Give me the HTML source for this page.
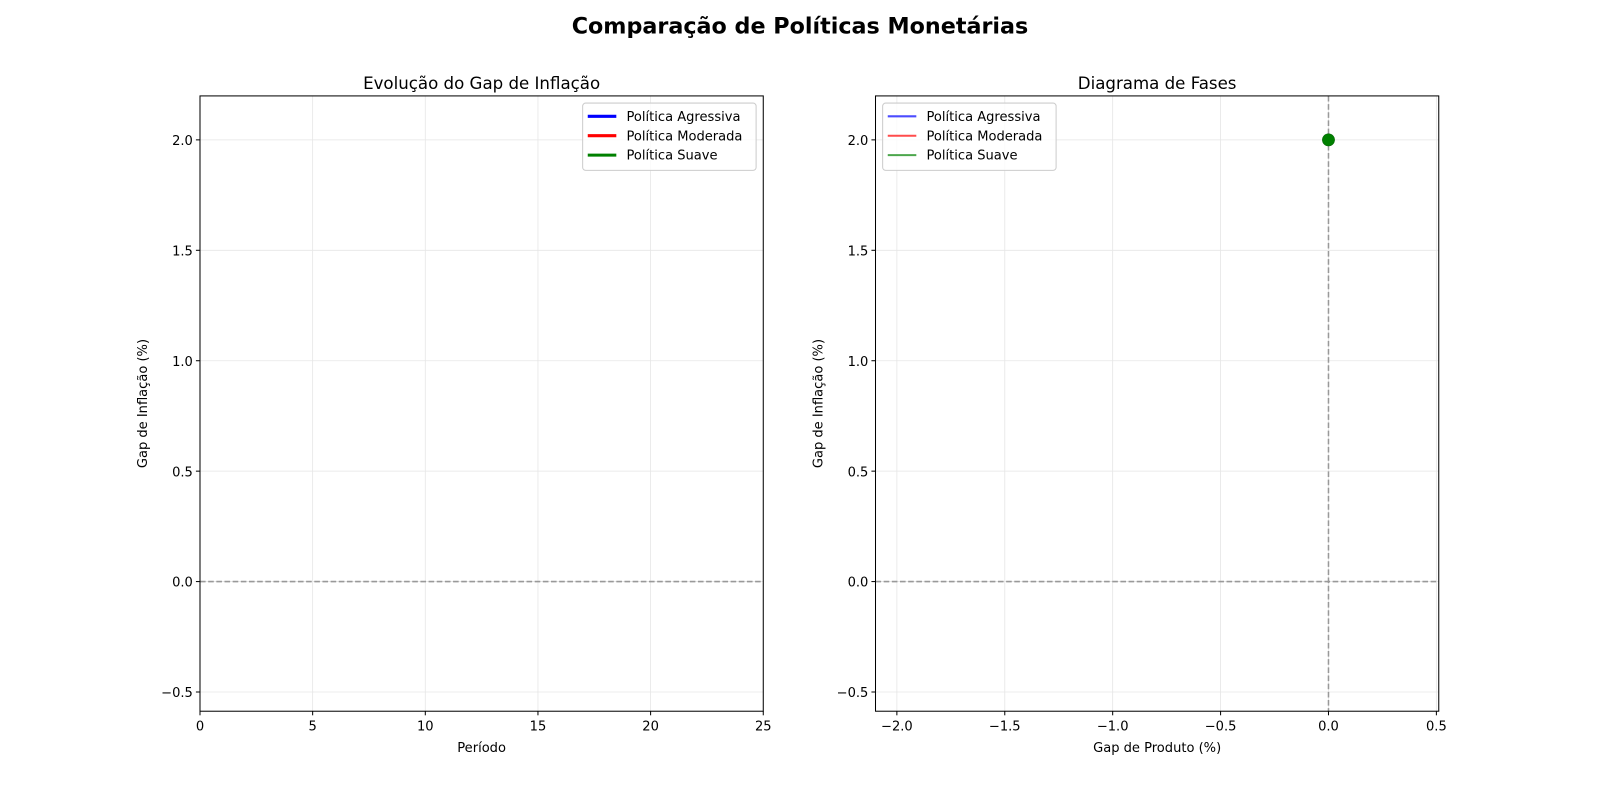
<!DOCTYPE html>
<html><head><meta charset="utf-8"><style>
body{margin:0;background:#fff;overflow:hidden;}
svg{display:block;font-family:"DejaVu Sans","Liberation Sans",sans-serif;}
</style></head><body>
<svg width="1600" height="800" xmlns="http://www.w3.org/2000/svg">
<g id="fig" transform="scale(1.0204)">
<text x="784" y="33" text-anchor="middle" font-size="21.8" font-weight="bold">Comparação de Políticas Monetárias</text>
</g>
</svg>
<script>
const leftXTicks=[0,5,10,15,20,25];
const yTicks=[-0.5,0.0,0.5,1.0,1.5,2.0];
const rightXTicks=[-2.0,-1.5,-1.0,-0.5,0.0,0.5];
const seriesNames=['Política Agressiva','Política Moderada','Política Suave'];
const seriesColors=['#0000ff','#ff0000','#008000'];
const startPointX=[0];
const startPointY=[2.0];
const NS='http://www.w3.org/2000/svg';
const svg=document.getElementById('fig');
const FS=12.8;
function mk(tag,attrs,parent){const e=document.createElementNS(NS,tag);for(const k in attrs)e.setAttribute(k,attrs[k]);(parent||svg).appendChild(e);return e;}
function axes(cfg){
  const g=mk('g',{});
  
  
  const sx=v=>cfg.x0+(v-cfg.xmin)/(cfg.xmax-cfg.xmin)*(cfg.x1-cfg.x0);
  const sy=v=>cfg.y1-(v-cfg.ymin)/(cfg.ymax-cfg.ymin)*(cfg.y1-cfg.y0);
  cfg.xt.forEach(t=>{mk('line',{x1:sx(t),x2:sx(t),y1:cfg.y0,y2:cfg.y1,stroke:'#e6e6e6','stroke-width':0.8},g);
    mk('line',{x1:sx(t),x2:sx(t),y1:cfg.y1,y2:cfg.y1+4,stroke:'#000'},g);
    const tx=mk('text',{x:sx(t),y:cfg.y1+19,'text-anchor':'middle','font-size':FS},g);tx.textContent=cfg.xf(t);
    
    });
  cfg.yt.forEach(t=>{mk('line',{x1:cfg.x0,x2:cfg.x1,y1:sy(t),y2:sy(t),stroke:'#e6e6e6','stroke-width':0.8},g);
    mk('line',{x1:cfg.x0-4,x2:cfg.x0,y1:sy(t),y2:sy(t),stroke:'#000'},g);
    const tx=mk('text',{x:cfg.x0-7,y:sy(t)+5,'text-anchor':'end','font-size':FS},g);tx.textContent=(t<0?'−':'')+Math.abs(t).toFixed(1);
    
    });
  mk('line',{x1:cfg.x0,x2:cfg.x1,y1:sy(0),y2:sy(0),stroke:'#999','stroke-width':1.5,'stroke-dasharray':'5.5,2.5'},g);
  if(cfg.vline) mk('line',{x1:sx(0),x2:sx(0),y1:cfg.y0,y2:cfg.y1,stroke:'#999','stroke-width':1.5,'stroke-dasharray':'5.5,2.5'},g);
  mk('rect',{x:cfg.x0,y:cfg.y0,width:cfg.x1-cfg.x0,height:cfg.y1-cfg.y0,fill:'none',stroke:'#000','stroke-width':1},g);
  const t=mk('text',{x:(cfg.x0+cfg.x1)/2,y:cfg.y0-7,'text-anchor':'middle','font-size':16.3},g);t.textContent=cfg.title;
  
  
  const xl=mk('text',{x:(cfg.x0+cfg.x1)/2,y:cfg.y1+40,'text-anchor':'middle','font-size':FS},g);xl.textContent=cfg.xlabel;
  
  
  const yl=mk('text',{x:0,y:0,'text-anchor':'middle','font-size':FS,transform:`translate(${cfg.x0-52},${(cfg.y0+cfg.y1)/2}) rotate(-90)`},g);yl.textContent='Gap de Inflação (%)';
  
  
  const lg=mk('g',{},g);
  
  
  mk('rect',{x:cfg.lx,y:cfg.y0+7,width:cfg.lw,height:66,rx:3,fill:'#fff','fill-opacity':0.8,stroke:'#ccc'},lg);
  seriesNames.forEach((n,i)=>{const yy=cfg.y0+20+i*19;
    mk('line',{x1:cfg.lx+5,x2:cfg.lx+33,y1:yy,y2:yy,stroke:seriesColors[i],'stroke-width':cfg.lwid,'stroke-opacity':cfg.op},lg);
    const tx=mk('text',{x:cfg.lx+43,y:yy+4.5,'font-size':FS},lg);tx.textContent=n;
    
    });
  return {sx,sy,g};
}
axes({name:'inflation-gap-chart',x0:196,x1:748,y0:94,y1:697,xmin:0,xmax:25,ymin:-0.587,ymax:2.199,xt:leftXTicks,yt:yTicks,xf:t=>String(t),title:'Evolução do Gap de Inflação',xlabel:'Período',vline:false,lx:571,lw:170,lwid:3,op:1});
const r=axes({name:'phase-diagram',x0:858,x1:1410,y0:94,y1:697,xmin:-2.099,xmax:0.511,ymin:-0.587,ymax:2.199,xt:rightXTicks,yt:yTicks,xf:t=>(t<0?'−':'')+Math.abs(t).toFixed(1),title:'Diagrama de Fases',xlabel:'Gap de Produto (%)',vline:true,lx:865,lw:170,lwid:2,op:0.7});
startPointX.forEach((v,i)=>{const c=mk('circle',{cx:r.sx(v),cy:r.sy(startPointY[i]),r:6,fill:'#008000',stroke:'#006000','stroke-width':0.5},r.g);
  
  });
</script>
</body></html>
